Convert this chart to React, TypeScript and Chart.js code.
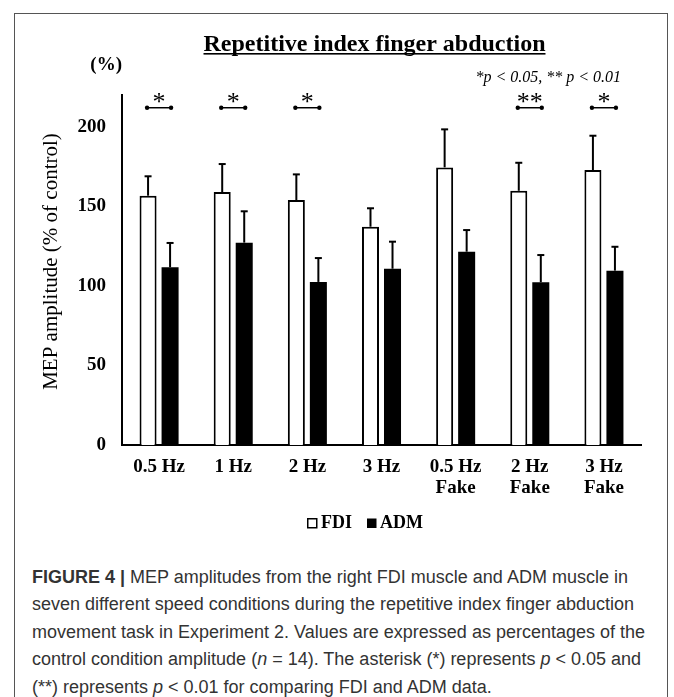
import React, { useEffect, useRef } from "react";
import { Chart, registerables } from "chart.js";

Chart.register(...registerables);

// ---- data ----
const categories: string[][] = [
  ["0.5 Hz"],
  ["1 Hz"],
  ["2 Hz"],
  ["3 Hz"],
  ["0.5 Hz", "Fake"],
  ["2 Hz", "Fake"],
  ["3 Hz", "Fake"],
];
const fdiMeans = [156.7, 159.0, 154.0, 137.2, 174.5, 159.8, 172.8];
const fdiSD = [12.2, 17.6, 16.1, 11.6, 23.9, 17.6, 21.6];
const admMeans = [111.7, 127.2, 102.5, 110.8, 121.5, 102.3, 109.6];
const admSD = [15.3, 19.7, 15.0, 17.0, 13.6, 17.1, 15.0];
const sigMarks = ["*", "*", "*", "", "", "**", "*"];
const sigLevel = 212;
const yMax = 220;
const yStep = 50;

const titleText = "Repetitive index finger abduction";
const yTitle = "MEP amplitude (% of control)";
const unitText = "(%)";
const pText = "*p < 0.05, ** p < 0.01";
const legendNames = ["FDI", "ADM"];

const SERIF = "'Liberation Serif', 'Times New Roman', serif";

const overlayPlugin = {
  id: "overlay",
  afterDatasetsDraw(chart: any) {
    const ctx = chart.ctx as CanvasRenderingContext2D;
    const yScale = chart.scales.y;
    ctx.save();
    ctx.strokeStyle = "#000";
    ctx.fillStyle = "#000";
    // error bars
    const sets = [
      { means: fdiMeans, sd: fdiSD },
      { means: admMeans, sd: admSD },
    ];
    sets.forEach((s, di) => {
      const meta = chart.getDatasetMeta(di);
      meta.data.forEach((bar: any, j: number) => {
        const x = bar.x;
        const y0 = yScale.getPixelForValue(s.means[j]);
        const y1 = yScale.getPixelForValue(s.means[j] + s.sd[j]);
        ctx.lineWidth = 2;
        ctx.beginPath();
        ctx.moveTo(x, y0);
        ctx.lineTo(x, y1);
        ctx.stroke();
        ctx.beginPath();
        ctx.moveTo(x - 3.5, y1);
        ctx.lineTo(x + 3.5, y1);
        ctx.stroke();
      });
    });
    // significance brackets
    const m0 = chart.getDatasetMeta(0);
    const m1 = chart.getDatasetMeta(1);
    const by = yScale.getPixelForValue(sigLevel);
    sigMarks.forEach((mark, j) => {
      if (!mark) return;
      const xa = m0.data[j].x - 1;
      const xb = m1.data[j].x + 1;
      ctx.lineWidth = 1.5;
      ctx.beginPath();
      ctx.moveTo(xa, by);
      ctx.lineTo(xb, by);
      ctx.stroke();
      [xa, xb].forEach((xx) => {
        ctx.beginPath();
        ctx.arc(xx, by, 2.2, 0, Math.PI * 2);
        ctx.fill();
      });
      ctx.font = `26px ${SERIF}`;
      ctx.textAlign = "center";
      ctx.textBaseline = "alphabetic";
      ctx.fillText(mark, (xa + xb) / 2, by + 2.5);
    });

    // title
    ctx.font = `bold 24px ${SERIF}`;
    ctx.textAlign = "center";
    ctx.textBaseline = "alphabetic";
    const tx = 374.5;
    const tBase = 50.5;
    ctx.fillText(titleText, tx, tBase);
    const tw = ctx.measureText(titleText).width;
    ctx.fillRect(tx - tw / 2, tBase + 2.5, tw, 1.6);

    // unit
    ctx.font = `bold 19px ${SERIF}`;
    ctx.textAlign = "right";
    ctx.textBaseline = "middle";
    ctx.fillText(unitText, 122, 65);

    // p text
    ctx.font = `italic 16px ${SERIF}`;
    ctx.textAlign = "right";
    ctx.textBaseline = "middle";
    ctx.fillText(pText, 621, 78);

    // y title
    ctx.save();
    ctx.translate(51, 261.5);
    ctx.rotate(-Math.PI / 2);
    ctx.font = `21px ${SERIF}`;
    ctx.textAlign = "center";
    ctx.textBaseline = "middle";
    ctx.fillText(yTitle, 0, 0);
    ctx.restore();

    // legend
    ctx.lineWidth = 1.5;
    ctx.strokeRect(307.75, 518.75, 9, 9);
    ctx.fillRect(367, 518.5, 9.5, 9.5);
    ctx.font = `bold 18px ${SERIF}`;
    ctx.textAlign = "left";
    ctx.textBaseline = "middle";
    ctx.fillText(legendNames[0], 321, 523);
    ctx.fillText(legendNames[1], 380, 523);
    ctx.restore();
  },
};

function ChartCanvas() {
  const ref = useRef<HTMLCanvasElement | null>(null);
  useEffect(() => {
    if (!ref.current) return;
    const tickFont = { family: SERIF, size: 19, weight: "bold" as const, lineHeight: 1.1 };
    const chart = new Chart(ref.current, {
      type: "bar",
      data: {
        labels: categories,
        datasets: [
          {
            label: legendNames[0],
            data: fdiMeans,
            backgroundColor: "#ffffff",
            borderColor: "#000000",
            borderWidth: 2,
            barPercentage: 0.773,
            categoryPercentage: 0.594,
          },
          {
            label: legendNames[1],
            data: admMeans,
            backgroundColor: "#000000",
            borderColor: "#000000",
            borderWidth: 0,
            barPercentage: 0.773,
            categoryPercentage: 0.594,
          },
        ],
      },
      options: {
        animation: false,
        responsive: false,
        maintainAspectRatio: false,
        devicePixelRatio: 1,
        layout: { padding: { left: 0, right: 33, top: 95, bottom: 40 } },
        plugins: {
          legend: { display: false },
          tooltip: { enabled: false },
          title: { display: false },
        },
        scales: {
          x: {
            grid: { display: false, drawTicks: false },
            border: { display: true, color: "#000", width: 2 },
            ticks: {
              color: "#000",
              font: tickFont,
              padding: 12,
              maxRotation: 0,
              autoSkip: false,
            },
            afterFit: (s: any) => {
              s.height = 60;
            },
          },
          y: {
            min: 0,
            max: yMax,
            grid: { display: false, drawTicks: false },
            border: { display: true, color: "#000", width: 2 },
            ticks: {
              stepSize: yStep,
              color: "#000",
              font: tickFont,
              padding: 16,
              callback: (v: any) => (Number(v) % yStep === 0 ? String(v) : ""),
            },
            afterFit: (s: any) => {
              s.width = 122;
            },
          },
        },
      },
      plugins: [overlayPlugin],
    });
    return () => chart.destroy();
  }, []);
  return (
    <canvas
      ref={ref}
      width={674}
      height={545}
      style={{ position: "absolute", left: 0, top: 0, width: 674, height: 545 }}
    />
  );
}

const captionLines: React.ReactNode[] = [
  <>
    <b>FIGURE 4 |</b> MEP amplitudes from the right FDI muscle and ADM muscle in
  </>,
  <>seven different speed conditions during the repetitive index finger abduction</>,
  <>movement task in Experiment 2. Values are expressed as percentages of the</>,
  <>
    control condition amplitude (<i>n</i> = 14). The asterisk (*) represents <i>p</i> &lt; 0.05 and
  </>,
  <>
    (**) represents <i>p</i> &lt; 0.01 for comparing FDI and ADM data.
  </>,
];

export default function App() {
  return (
    <div
      style={{
        position: "fixed",
        left: 0,
        top: 0,
        width: 674,
        height: 697,
        overflow: "hidden",
        background: "#fff",
      }}
    >
      <div
        style={{
          position: "absolute",
          left: 14,
          top: 13,
          width: 654,
          height: 720,
          border: "1px solid #555",
          boxSizing: "border-box",
        }}
      />
      <ChartCanvas />
      <div
        style={{
          position: "absolute",
          left: 32,
          top: 563.5,
          fontFamily: "'Liberation Sans', Arial, sans-serif",
          fontSize: 18,
          lineHeight: "27.5px",
          color: "#333",
          whiteSpace: "nowrap",
        }}
      >
        {captionLines.map((l, i) => (
          <div key={i}>{l}</div>
        ))}
      </div>
    </div>
  );
}
